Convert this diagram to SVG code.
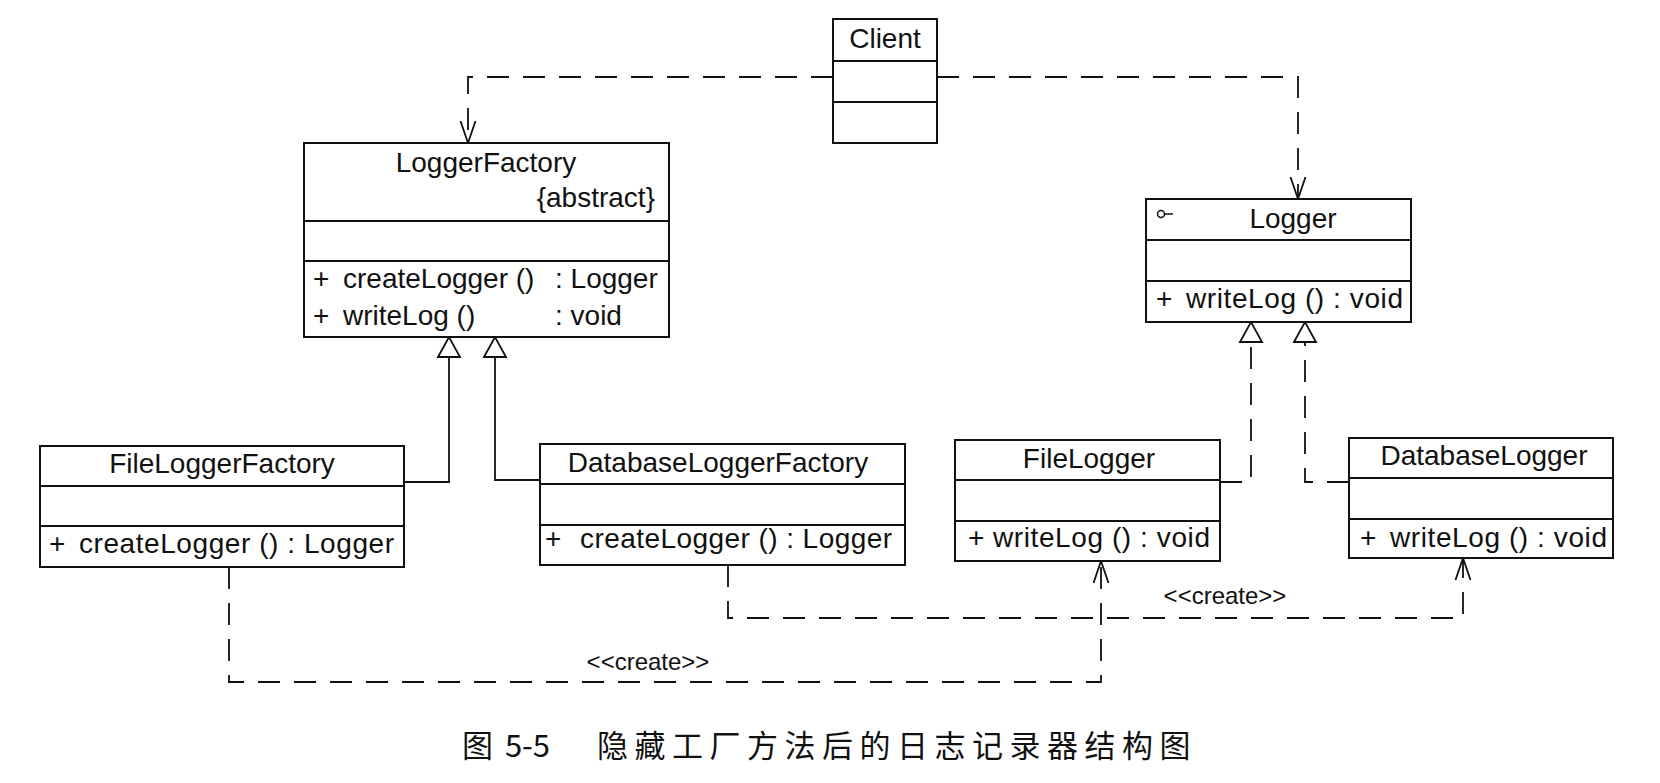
<svg xmlns="http://www.w3.org/2000/svg" width="1660" height="783" viewBox="0 0 1660 783">
<style>
.box{fill:#fff;stroke:#111;stroke-width:2}
.div{stroke:#111;stroke-width:2}
.t{font-family:"Liberation Sans",Arial,sans-serif;font-size:28px;fill:#111}
.c{text-anchor:middle}
.lbl{font-family:"Liberation Sans",Arial,sans-serif;font-size:24px;fill:#111;text-anchor:middle}
.cap{font-family:"Noto Sans CJK SC",sans-serif;font-size:31px;fill:#111}
.solid{fill:none;stroke:#111;stroke-width:1.8}
.dash{fill:none;stroke:#111;stroke-width:1.8;stroke-dasharray:22 14}
</style>
<defs>
<marker id="open" markerUnits="userSpaceOnUse" viewBox="0 0 22 16" refX="22" refY="8" markerWidth="22" markerHeight="16" orient="auto" style="overflow:visible">
<path d="M0,0.5 L22,8 L0,15.5" fill="none" stroke="#111" stroke-width="1.8"/>
</marker>
<marker id="tri" markerUnits="userSpaceOnUse" viewBox="0 0 20 22" refX="20" refY="11" markerWidth="20" markerHeight="22" orient="auto" style="overflow:visible">
<path d="M0,0 L20,11 L0,22 Z" fill="#fff" stroke="#111" stroke-width="1.8" stroke-dasharray="none"/>
</marker>
</defs>
<rect width="1660" height="783" fill="#fff"/>

<g id="connectors">
<path class="dash" d="M833,77 H468 V143" marker-end="url(#open)"/>
<path class="dash" d="M937,77 H1298 V199" marker-end="url(#open)"/>
<path class="solid" d="M404,482 H449 V337" marker-end="url(#tri)"/>
<path class="solid" d="M540,480 H495 V337" marker-end="url(#tri)"/>
<path class="dash" d="M1220,482 H1251 V322" marker-end="url(#tri)"/>
<path class="dash" d="M1349,482 H1305 V322" marker-end="url(#tri)"/>
<path class="dash" d="M229,567 V682 H1101 V561" marker-end="url(#open)"/>
<text class="lbl" x="648" y="670">&lt;&lt;create&gt;&gt;</text>
<path class="dash" d="M728,565 V618 H1463 V558" marker-end="url(#open)"/>
<text class="lbl" x="1225" y="604">&lt;&lt;create&gt;&gt;</text>
</g>

<g id="Client">
<rect class="box" x="833" y="19" width="104" height="124"/>
<line class="div" x1="833" y1="61" x2="937" y2="61"/>
<line class="div" x1="833" y1="102" x2="937" y2="102"/>
<text class="t c" x="885" y="48">Client</text>
</g>

<g id="LoggerFactory">
<rect class="box" x="304" y="143" width="365" height="194"/>
<line class="div" x1="304" y1="221" x2="669" y2="221"/>
<line class="div" x1="304" y1="261" x2="669" y2="261"/>
<text class="t c" x="486" y="172">LoggerFactory</text>
<text class="t" x="655" y="207" text-anchor="end">{abstract}</text>
<text class="t" x="313" y="288">+</text>
<text class="t" x="343" y="288">createLogger ()</text>
<text class="t" x="555" y="288">: Logger</text>
<text class="t" x="313" y="325">+</text>
<text class="t" x="343" y="325">writeLog ()</text>
<text class="t" x="555" y="325">: void</text>
</g>

<g id="Logger">
<rect class="box" x="1146" y="199" width="265" height="123"/>
<line class="div" x1="1146" y1="240" x2="1411" y2="240"/>
<line class="div" x1="1146" y1="281" x2="1411" y2="281"/>
<circle cx="1161" cy="214" r="3.5" fill="none" stroke="#111" stroke-width="1.5"/>
<line x1="1164.5" y1="214" x2="1173" y2="214" stroke="#111" stroke-width="1.5"/>
<text class="t c" x="1293" y="228">Logger</text>
<text class="t" x="1156" y="308">+</text>
<text class="t" x="1186" y="308" textLength="217">writeLog () : void</text>
</g>

<g id="FileLoggerFactory">
<rect class="box" x="40" y="446" width="364" height="121"/>
<line class="div" x1="40" y1="486" x2="404" y2="486"/>
<line class="div" x1="40" y1="526" x2="404" y2="526"/>
<text class="t c" x="222" y="473">FileLoggerFactory</text>
<text class="t" x="49" y="553">+</text>
<text class="t" x="79" y="553" textLength="315">createLogger () : Logger</text>
</g>

<g id="DatabaseLoggerFactory">
<rect class="box" x="540" y="444" width="365" height="121"/>
<line class="div" x1="540" y1="484" x2="905" y2="484"/>
<line class="div" x1="540" y1="525" x2="905" y2="525"/>
<text class="t c" x="718" y="472">DatabaseLoggerFactory</text>
<text class="t" x="545" y="548">+</text>
<text class="t" x="580" y="548" textLength="312">createLogger () : Logger</text>
</g>

<g id="FileLogger">
<rect class="box" x="955" y="440" width="265" height="121"/>
<line class="div" x1="955" y1="480" x2="1220" y2="480"/>
<line class="div" x1="955" y1="521" x2="1220" y2="521"/>
<text class="t c" x="1089" y="468">FileLogger</text>
<text class="t" x="968" y="547">+</text>
<text class="t" x="993" y="547" textLength="217">writeLog () : void</text>
</g>

<g id="DatabaseLogger">
<rect class="box" x="1349" y="438" width="264" height="120"/>
<line class="div" x1="1349" y1="478" x2="1613" y2="478"/>
<line class="div" x1="1349" y1="519" x2="1613" y2="519"/>
<text class="t c" x="1484" y="465">DatabaseLogger</text>
<text class="t" x="1360" y="547">+</text>
<text class="t" x="1390" y="547" textLength="217">writeLog () : void</text>
</g>

<g id="caption">
<text class="cap" x="462" y="757">图</text>
<text class="cap" x="505" y="757" textLength="45">5-5</text>
<text class="cap" x="597" y="757" letter-spacing="6.5">隐藏工厂方法后的日志记录器结构图</text>
</g>
</svg>
